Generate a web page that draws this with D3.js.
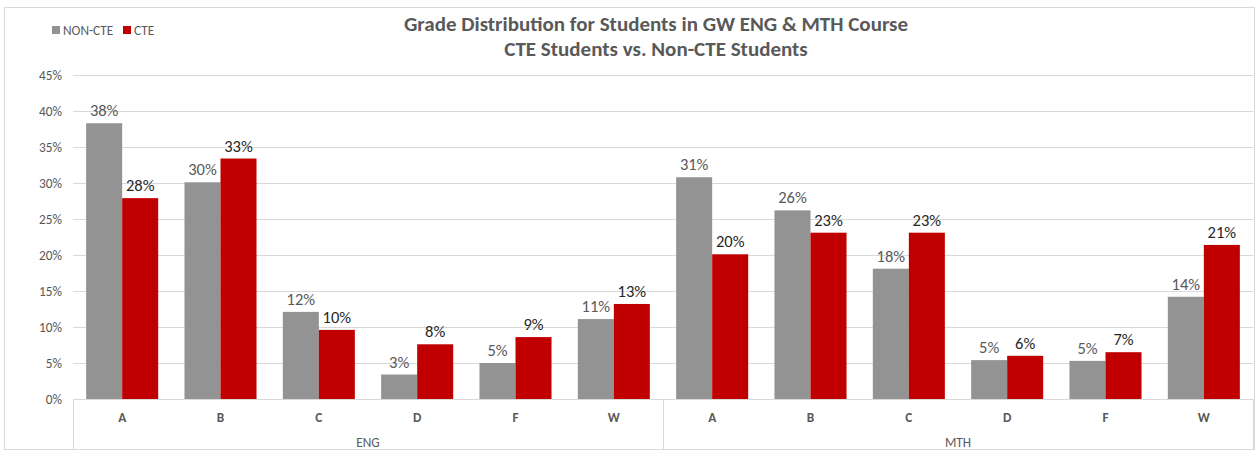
<!DOCTYPE html>
<meta charset="utf-8">
<style>
body { margin: 0; background: #fff; }
text { font-family: Carlito, "Open Sans", "Noto Sans", sans-serif; }
.grid line { stroke: #d9d9d9; stroke-width: 1; }
.ylab { fill: #595959; font-size: 13.3px; }
.lbl { font-size: 16.5px; }
</style>
<body>
<div id="chart"></div>
<script src="https://d3js.org/d3.v7.min.js"></script>
<script>
// data
var courses = ["ENG", "MTH"];
var grades = ["A", "B", "C", "D", "F", "W"];
var seriesNames = ["NON-CTE", "CTE"];
var nonCte = [38.3, 30.1, 12.1, 3.4, 5.0, 11.1, 30.8, 26.2, 18.1, 5.4, 5.3, 14.2];
var cte = [27.9, 33.4, 9.6, 7.6, 8.6, 13.2, 20.1, 23.1, 23.1, 6.0, 6.5, 21.4];
var yTicks = [0, 5, 10, 15, 20, 25, 30, 35, 40, 45];
var colors = ["#939393", "#c00000"];
var labelColors = ["#595959", "#262626"];

var W = 1257, H = 452;
var pLeft = 73, pRight = 1253, pTop = 75, pBottom = 399;

var svg = d3.select("#chart").append("svg")
    .attr("width", W).attr("height", H);

// outer border
svg.append("rect")
    .attr("x", 4.5).attr("y", 7.5).attr("width", 1250).attr("height", 442)
    .attr("fill", "#fff").attr("stroke", "#d9d9d9");

var cats = [];
courses.forEach(function(c) { grades.forEach(function(g) { cats.push(c + "|" + g); }); });

var x = d3.scaleBand().domain(cats).range([pLeft, pRight]).paddingInner(0).paddingOuter(0);
var xs = d3.scaleBand().domain(seriesNames).range([0, x.bandwidth()]).paddingInner(0).paddingOuter(0.365);
var y = d3.scaleLinear().domain([0, 45]).range([pBottom, pTop]);

// gridlines
svg.append("g").attr("class", "grid")
  .selectAll("line").data(yTicks.slice(1)).enter().append("line")
    .attr("x1", pLeft).attr("x2", pRight)
    .attr("y1", function(d) { return Math.round(y(d)) + 0.5; })
    .attr("y2", function(d) { return Math.round(y(d)) + 0.5; });

// y labels
svg.append("g").selectAll("text").data(yTicks).enter().append("text")
    .attr("class", "ylab")
    .attr("x", 62).attr("y", function(d) { return y(d) + 4.5; })
    .attr("text-anchor", "end")
    .text(function(d) { return d + "%"; });

var series = [nonCte, cte];
series.forEach(function(vals, si) {
  var g = svg.append("g");
  g.selectAll("rect").data(vals).enter().append("rect")
      .attr("x", function(d, i) { return x(cats[i]) + xs(seriesNames[si]); })
      .attr("y", function(d) { return y(d); })
      .attr("width", xs.bandwidth())
      .attr("height", function(d) { return pBottom - y(d); })
      .attr("fill", colors[si]);
  g.selectAll("text").data(vals).enter().append("text")
      .attr("class", "lbl")
      .attr("x", function(d, i) { return x(cats[i]) + xs(seriesNames[si]) + xs.bandwidth() / 2; })
      .attr("y", function(d) { return y(d) - 7; })
      .attr("text-anchor", "middle")
      .attr("fill", labelColors[si])
      .text(function(d) { return Math.round(d) + "%"; });
});

// category axis (two levels)
var ax = svg.append("g").attr("stroke", "#d9d9d9").attr("fill", "none");
ax.append("line").attr("x1", pLeft).attr("x2", pRight).attr("y1", pBottom + 0.5).attr("y2", pBottom + 0.5);
[0, 6, 12].forEach(function(i) {
  var xx = i < 12 ? x(cats[i]) : pRight;
  ax.append("line").attr("x1", Math.round(xx) + 0.5).attr("x2", Math.round(xx) + 0.5)
      .attr("y1", pBottom).attr("y2", 449);
});

svg.append("g").selectAll("text").data(cats).enter().append("text")
    .attr("x", function(d) { return x(d) + x.bandwidth() / 2; })
    .attr("y", 422)
    .attr("text-anchor", "middle")
    .attr("fill", "#595959").attr("font-size", "13.3px").attr("font-weight", "bold")
    .text(function(d) { return d.split("|")[1]; });

svg.append("g").selectAll("text").data(courses).enter().append("text")
    .attr("x", function(d, i) { return x(cats[i * 6]) + x.bandwidth() * 3; })
    .attr("y", 447)
    .attr("text-anchor", "middle")
    .attr("fill", "#595959").attr("font-size", "13.3px")
    .text(function(d) { return d; });

// title
var title = svg.append("text").attr("text-anchor", "middle")
    .attr("fill", "#595959").attr("font-weight", "bold").attr("font-size", "21px");
title.append("tspan").attr("x", 656).attr("y", 31).text("Grade Distribution for Students in GW ENG & MTH Course");
title.append("tspan").attr("x", 656).attr("y", 56).text("CTE Students vs. Non-CTE Students");

// legend
var legX = [52, 123];
seriesNames.forEach(function(s, i) {
  svg.append("rect").attr("x", legX[i]).attr("y", 26).attr("width", 8).attr("height", 8).attr("fill", colors[i]);
  svg.append("text").attr("x", legX[i] + 11).attr("y", 34.5)
      .attr("fill", "#595959").attr("font-size", "13.3px").text(s);
});
</script>
</body>
